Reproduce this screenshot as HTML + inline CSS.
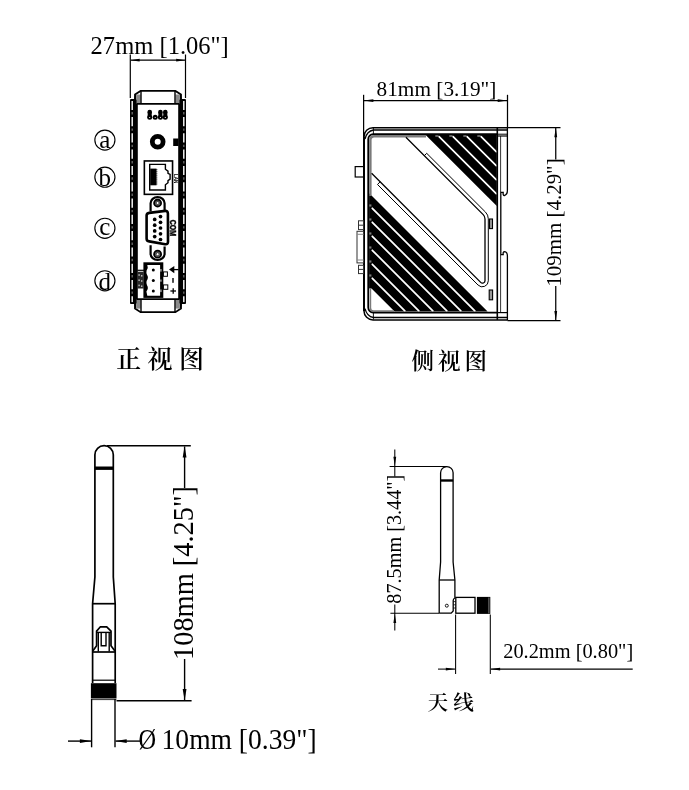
<!DOCTYPE html>
<html lang="zh"><head><meta charset="utf-8"><title>Dimensions</title>
<style>html,body{margin:0;padding:0;background:#fff}svg{display:block;will-change:transform}text{fill:#000}</style></head><body>
<svg width="689" height="790" viewBox="0 0 689 790">
<rect width="689" height="790" fill="#fff"/>
<!-- front view dimension -->
<g id="front-dim" stroke="#000" stroke-width="1.2" fill="#000">
<line x1="130.3" y1="54.5" x2="130.3" y2="98"/><line x1="185.5" y1="54.5" x2="185.5" y2="98"/>
<line x1="131" y1="60.2" x2="185" y2="60.2"/>
<g stroke="none"><polygon points="130.60,60.20 139.60,58.80 139.60,61.60"/><polygon points="185.20,60.20 176.20,61.60 176.20,58.80"/></g>
</g>
<text x="90.6" y="53.7" font-size="24.2" font-family="'Liberation Serif', serif" textLength="138.2" lengthAdjust="spacingAndGlyphs">27mm [1.06"]</text>
<!-- front view device -->
<g id="front">
<rect x="130" y="99.7" width="7.8" height="203.7" fill="#000"/>
<rect x="178.2" y="99.7" width="7.8" height="203.7" fill="#000"/>
<line x1="132.2" y1="100.7" x2="132.2" y2="302.5" stroke="#fff" stroke-width="1.4" stroke-dasharray="9.2 7.1"/>
<line x1="132.2" y1="112.1" x2="132.2" y2="302.5" stroke="#777" stroke-width="1.2" stroke-dasharray="2.4 13.9"/>
<line x1="183.8" y1="100.7" x2="183.8" y2="302.5" stroke="#fff" stroke-width="1.4" stroke-dasharray="9.2 7.1"/>
<line x1="183.8" y1="112.1" x2="183.8" y2="302.5" stroke="#777" stroke-width="1.2" stroke-dasharray="2.4 13.9"/>
<g fill="none" stroke="#000">
<rect x="136.4" y="94.5" width="4.2" height="9" fill="#8a8a8a" stroke="none"/><rect x="175.4" y="94.5" width="4.2" height="9" fill="#8a8a8a" stroke="none"/>
<path d="M130.4,100 L134.9,100 L135,94.6 L140.6,90.9 L175.4,90.9 L181,94.6 L181.1,100 L185.6,100" stroke-width="1.8"/>
<line x1="141" y1="91" x2="141" y2="104" stroke-width="1.4"/><line x1="175" y1="91" x2="175" y2="104" stroke-width="1.4"/>
<line x1="135.6" y1="95" x2="135.6" y2="104" stroke-width="1.2"/><line x1="180.4" y1="95" x2="180.4" y2="104" stroke-width="1.2"/>
<line x1="137" y1="103.9" x2="179" y2="103.9" stroke-width="1.7"/>
</g>
<g transform="translate(0,403.1) scale(1,-1)" fill="none" stroke="#000">
<rect x="136.4" y="94.5" width="4.2" height="9" fill="#8a8a8a" stroke="none"/><rect x="175.4" y="94.5" width="4.2" height="9" fill="#8a8a8a" stroke="none"/>
<path d="M130.4,100 L134.9,100 L135,94.6 L140.6,90.9 L175.4,90.9 L181,94.6 L181.1,100 L185.6,100" stroke-width="1.8"/>
<line x1="141" y1="91" x2="141" y2="104" stroke-width="1.4"/><line x1="175" y1="91" x2="175" y2="104" stroke-width="1.4"/>
<line x1="135.6" y1="95" x2="135.6" y2="104" stroke-width="1.2"/><line x1="180.4" y1="95" x2="180.4" y2="104" stroke-width="1.2"/>
<line x1="137" y1="103.9" x2="179" y2="103.9" stroke-width="1.7"/>
</g>
<g fill="#000">
<circle cx="149.7" cy="117.2" r="2.5"/>
<circle cx="155.2" cy="117.2" r="2.5"/>
<circle cx="160.4" cy="117.2" r="2.5"/>
<circle cx="165.3" cy="117.2" r="2.5"/>
<circle cx="149.7" cy="112" r="2.3"/><rect x="147.7" y="112" width="4" height="5"/>
<circle cx="160.4" cy="112" r="2.3"/><rect x="158.4" y="112" width="4" height="5"/>
<circle cx="165.3" cy="112" r="2.3"/><rect x="163.3" y="112" width="4" height="5"/>
</g>
<g fill="#fff">
<circle cx="149.7" cy="117.5" r="0.6"/>
<circle cx="155.2" cy="117.5" r="0.6"/>
<circle cx="160.4" cy="117.5" r="0.6"/>
<circle cx="165.3" cy="117.5" r="0.6"/>
</g>
<circle cx="157.7" cy="141.7" r="5.4" fill="none" stroke="#000" stroke-width="4.8"/>
<rect x="173.2" y="138.5" width="5.4" height="7.5" fill="#000"/>
<rect x="144.35" y="160.95" width="28.2" height="33.4" fill="none" stroke="#000" stroke-width="1.6"/>
<path d="M149.7,164.4 L165.4,164.4 L165.4,169.2 L168,171.2 L168,173.4 L170.1,174.5 L170.1,179.2 L168,180.6 L168,182.7 L165.4,184.8 L165.4,190 L149.7,190 Z" fill="none" stroke="#000" stroke-width="1.4"/>
<rect x="150.2" y="168.6" width="6.3" height="16.7" fill="#000"/>
<g fill="#000">
<rect x="156.4" y="169.2" width="0.9" height="1"/>
<rect x="156.4" y="171.2" width="0.9" height="1"/>
<rect x="156.4" y="173.3" width="0.9" height="1"/>
<rect x="156.4" y="175.3" width="0.9" height="1"/>
<rect x="156.4" y="177.4" width="0.9" height="1"/>
<rect x="156.4" y="179.4" width="0.9" height="1"/>
<rect x="156.4" y="181.5" width="0.9" height="1"/>
<rect x="156.4" y="183.5" width="0.9" height="1"/>
</g>
<text transform="translate(173.6,174) rotate(90)" font-size="4.6" font-weight="bold" font-family="'Liberation Sans', sans-serif">LAN</text>
<g fill="none" stroke="#000">
<path d="M150.6,211.5 L150.6,203.2 A7,6.2 0 0 1 164.6,203.2 L164.6,210.5" stroke-width="2.2"/>
<path d="M150.6,245.2 L150.6,253.8 A7,6.2 0 0 0 164.6,253.8 L164.6,246.6" stroke-width="2.2"/>
<circle cx="157.6" cy="203" r="3.5" stroke="#000" stroke-width="1.8" fill="#666"/><circle cx="157.6" cy="203" r="1.5" stroke="#000" stroke-width="0.6" fill="#fff"/>
<circle cx="157.6" cy="254.2" r="3.5" stroke="#000" stroke-width="1.8" fill="#666"/><circle cx="157.6" cy="254.2" r="1.5" stroke="#000" stroke-width="0.6" fill="#fff"/>
<path d="M149.2,212.9 L165.2,210.9 Q167.8,210.8 167.9,213.5 L168,241.8 Q168,244.6 165.2,244.2 L149.2,241.4 Q146.6,241 146.6,238.4 L146.6,215.6 Q146.6,213.2 149.2,212.9 Z" stroke-width="2.6" fill="#fff"/>
</g>
<g fill="#000">
<circle cx="160.5" cy="216.6" r="1.85"/>
<circle cx="160.5" cy="222.3" r="1.85"/>
<circle cx="160.5" cy="228.0" r="1.85"/>
<circle cx="160.5" cy="233.8" r="1.85"/>
<circle cx="160.5" cy="239.5" r="1.85"/>
<circle cx="154.7" cy="219.4" r="1.85"/>
<circle cx="154.7" cy="225.2" r="1.85"/>
<circle cx="154.7" cy="230.9" r="1.85"/>
<circle cx="154.7" cy="236.6" r="1.85"/>
</g>
<text transform="translate(170,219.8) rotate(90)" font-size="8.4" font-weight="bold" stroke="#000" stroke-width="0.45" font-family="'Liberation Sans', sans-serif" textLength="16.4" lengthAdjust="spacingAndGlyphs">COM</text>
<line x1="169.2" y1="221" x2="169.2" y2="236.4" stroke="#555" stroke-width="0.8" stroke-dasharray="0.7 0.8"/>
<rect x="143.4" y="262.3" width="19.9" height="35.6" fill="#000"/>
<path d="M147.3,264.9 L160.1,264.9 L160.1,295.7 L147.3,295.7 L146.4,291.5 Q149,288 147,285.3 Q146,283.5 146.6,281 Q149,277.5 147,274.8 Q146,273 146.6,270.5 Q148.6,268 147.3,264.9 Z" fill="#fff"/>
<g fill="#000"><circle cx="153.3" cy="270.1" r="1.5"/><circle cx="153.3" cy="280.6" r="1.5"/><circle cx="153.3" cy="291" r="1.5"/></g>
<g fill="#fff"><rect x="160.5" y="269" width="0.9" height="2.6"/><rect x="160.5" y="279.5" width="0.9" height="2.2"/><rect x="160.5" y="289.5" width="0.9" height="2.6"/></g>
<rect x="163.4" y="271.9" width="4" height="4.4" fill="#fff" stroke="#000" stroke-width="1"/>
<rect x="163.4" y="284.9" width="4.4" height="4.4" fill="#fff" stroke="#000" stroke-width="1"/>
<rect x="137.2" y="271.7" width="6.6" height="16.8" fill="#2a2a2a"/>
<g fill="#bbb">
<rect x="138.4" y="274.2" width="1.4" height="1.6"/><rect x="141" y="275.0" width="1.4" height="1.6"/>
<rect x="138.4" y="279.4" width="1.4" height="1.6"/><rect x="141" y="280.2" width="1.4" height="1.6"/>
<rect x="138.4" y="284.6" width="1.4" height="1.6"/><rect x="141" y="285.4" width="1.4" height="1.6"/>
</g>
<line x1="137.4" y1="270.3" x2="144" y2="270.3" stroke="#000" stroke-width="1.2"/>
<g stroke="#000" fill="#000">
<line x1="172" y1="269.6" x2="178.6" y2="269.6" stroke-width="1.3"/>
<polygon points="169,269.6 174.3,265.9 174.3,273.3" stroke="none"/>
<rect x="172.3" y="278" width="1.4" height="4.8" stroke="none"/>
<line x1="170.4" y1="291" x2="176" y2="291" stroke-width="1.3"/><line x1="173.2" y1="288.2" x2="173.2" y2="293.8" stroke-width="1.3"/>
</g>
</g>
<g id="labels">
<circle cx="104.9" cy="140.1" r="10.05" fill="none" stroke="#000" stroke-width="1.15"/>
<text x="104.7" y="148.3" font-size="25" text-anchor="middle" font-family="'Liberation Serif', serif">a</text>
<circle cx="104.9" cy="177.2" r="10.05" fill="none" stroke="#000" stroke-width="1.15"/>
<text x="104.7" y="185.8" font-size="25" text-anchor="middle" font-family="'Liberation Serif', serif">b</text>
<circle cx="104.9" cy="228.3" r="10.05" fill="none" stroke="#000" stroke-width="1.15"/>
<text x="104.7" y="234.7" font-size="25" text-anchor="middle" font-family="'Liberation Serif', serif">c</text>
<circle cx="104.9" cy="280.8" r="10.05" fill="none" stroke="#000" stroke-width="1.15"/>
<text x="104.7" y="289.6" font-size="25" text-anchor="middle" font-family="'Liberation Serif', serif">d</text>
</g>
<text x="116.3" y="367.5" font-size="25" letter-spacing="6.3" font-weight="600" font-family="'Liberation Serif', 'Noto Serif CJK SC', serif">正视图</text>
<text x="411.5" y="369" font-size="22.5" letter-spacing="4" font-weight="600" font-family="'Liberation Serif', 'Noto Serif CJK SC', serif">侧视图</text>
<text x="427.6" y="709.8" font-size="20.6" letter-spacing="5" font-weight="600" font-family="'Liberation Serif', 'Noto Serif CJK SC', serif">天线</text>
<!-- side view -->
<g id="side">
<polygon points="369.1,193.3 371.5,195.5 487.6,311.6 394.6,311.6 371.5,288.5 369.1,288.5" fill="#000"/>
<polygon points="425.7,135 496.8,135 496.8,206.1" fill="#000"/>
<g stroke="#fff" stroke-width="1.75" stroke-linecap="round">
<line x1="372.3" y1="208.3" x2="474.8" y2="310.8"/>
<line x1="372.3" y1="222.3" x2="460.8" y2="310.8"/>
<line x1="372.3" y1="236.3" x2="446.8" y2="310.8"/>
<line x1="372.3" y1="250.3" x2="432.8" y2="310.8"/>
<line x1="372.3" y1="264.3" x2="418.8" y2="310.8"/>
<line x1="372.3" y1="278.3" x2="404.8" y2="310.8"/>
<line x1="439.1" y1="136.6" x2="496.2" y2="193.7"/>
<line x1="453.1" y1="136.6" x2="496.2" y2="179.7"/>
<line x1="467.1" y1="136.6" x2="496.2" y2="165.7"/>
<line x1="481.1" y1="136.6" x2="496.2" y2="151.7"/>
</g>
<g fill="none" stroke="#7a7a7a" stroke-width="2.4">
<path d="M370.4,196 L370.4,140 Q370.4,136.2 374.2,136.2 L426,136.2"/>
<path d="M370.4,289 L370.4,308 Q370.4,311 373.5,311 L394,311" stroke-width="1.6"/>
</g>
<g fill="#7a7a7a">
<rect x="369.2" y="204.4" width="2.2" height="2.2"/>
<rect x="369.2" y="218.4" width="2.2" height="2.2"/>
<rect x="369.2" y="232.4" width="2.2" height="2.2"/>
<rect x="369.2" y="246.4" width="2.2" height="2.2"/>
<rect x="369.2" y="260.4" width="2.2" height="2.2"/>
<rect x="369.2" y="274.4" width="2.2" height="2.2"/>
<rect x="435.3" y="135.2" width="3.2" height="1.6"/>
<rect x="449.3" y="135.2" width="3.2" height="1.6"/>
<rect x="463.3" y="135.2" width="3.2" height="1.6"/>
<rect x="477.3" y="135.2" width="3.2" height="1.6"/>
</g>
<g fill="none" stroke="#000">
<path d="M507.4,127.7 L373,127.7 A9,9 0 0 0 364,136.7 L364,310.9 A9,9 0 0 0 373,319.9 L507.4,319.9" stroke-width="1.5"/>
<path d="M507,130 L373.4,130 Q367,131 365,139" stroke-width="1.3"/>
<line x1="364" y1="137" x2="364" y2="311" stroke-width="2"/>
<path d="M507,317.5 L373.4,317.5 Q367,316.5 365,308.6" stroke-width="1.3"/>
<line x1="373.4" y1="128" x2="373.4" y2="134" stroke-width="0.9"/><line x1="373.4" y1="313" x2="373.4" y2="319.6" stroke-width="0.9"/>
<path d="M497.3,134.2 L373.2,134.2 A5,5 0 0 0 368.2,139.2 L368.2,307.6 A5,5 0 0 0 373.2,312.6 L497.3,312.6" stroke-width="1.7"/>
<line x1="497.3" y1="127.7" x2="497.3" y2="319.9" stroke-width="1.6"/>
<line x1="497.3" y1="134.2" x2="507" y2="134.2" stroke-width="1"/><line x1="497.3" y1="136" x2="507" y2="136" stroke-width="1.2"/>
<line x1="497.3" y1="312.6" x2="507" y2="312.6" stroke-width="1.2"/>
<path d="M507.4,127.2 L507.4,190.6 Q507.4,194.6 504.4,195.6 Q502.8,195.4 503.2,192.4 L500.8,192.4 L500.8,254.6 L503.2,254.6 Q502.8,251.6 504.6,251.6 Q507.4,252 507.4,256 L507.4,320.4" stroke-width="1.3"/>
<line x1="500.6" y1="136" x2="500.6" y2="192" stroke-width="0.8"/><line x1="500.6" y1="255" x2="500.6" y2="312" stroke-width="0.8"/>
<path d="M371.6,173.3 L480.7,282.4 A2.5,2.5 0 0 0 485,280.7 L485,218.9 A6,6 0 0 0 483.2,214.6 L405.9,137.3" stroke-width="1.3"/>
<path d="M380.1,181.8 L377.5,184.5 L478.05,285.05 A6,6 0 0 0 488.3,280.8 L488.3,218.8 A9.5,9.5 0 0 0 485.5,212.1 L426.7,153.3 L424.3,155.7" stroke-width="1"/>
<rect x="489.5" y="219" width="3" height="9.6" fill="#999" stroke-width="1.1"/>
<rect x="489.2" y="290" width="3.4" height="9.8" fill="#999" stroke-width="1.1"/>
<rect x="355.2" y="166.6" width="8.4" height="10.4" stroke-width="1.2"/>
<g stroke="#333" stroke-width="1"><rect x="358.5" y="220.8" width="5" height="8.8"/><line x1="358.5" y1="225.2" x2="363.5" y2="225.2"/>
<rect x="357" y="231.3" width="6.5" height="31.6"/><line x1="357" y1="234.3" x2="363.5" y2="234.3" stroke="#888"/><line x1="357" y1="260" x2="363.5" y2="260" stroke="#888"/>
<rect x="358.5" y="265.3" width="5" height="8.3"/><line x1="358.5" y1="269.4" x2="363.5" y2="269.4"/></g>
</g>
<g stroke="#000" stroke-width="1.25" fill="#000">
<line x1="363.6" y1="94.8" x2="363.6" y2="138"/><line x1="507.5" y1="94.8" x2="507.5" y2="127.5"/>
<line x1="364" y1="100.6" x2="507" y2="100.6"/>
<g stroke="none"><polygon points="363.90,100.60 373.40,99.20 373.40,102.00"/><polygon points="507.20,100.60 497.70,102.00 497.70,99.20"/></g>
<line x1="507.5" y1="127.5" x2="560.5" y2="127.5"/><line x1="507.5" y1="320.7" x2="560.5" y2="320.7"/>
<line x1="555.75" y1="128" x2="555.75" y2="159.6"/><line x1="555.75" y1="286" x2="555.75" y2="320"/>
<g stroke="none"><polygon points="555.75,127.80 557.15,137.30 554.35,137.30"/><polygon points="555.75,320.40 554.35,310.90 557.15,310.90"/></g>
</g>
<text x="376.6" y="95.6" font-size="22" font-family="'Liberation Serif', serif" textLength="119.8" lengthAdjust="spacingAndGlyphs">81mm [3.19"]</text>
<text transform="translate(561.3,222.5) rotate(-90)" text-anchor="middle" font-size="20.4" font-family="'Liberation Serif', serif" textLength="128.2" lengthAdjust="spacingAndGlyphs">109mm [4.29"]</text>
</g>
<!-- antenna front -->
<g id="ant1" fill="none" stroke="#000" stroke-width="1.7">
<path d="M92.6,683 L92.6,603.7 L94.9,577 L94.9,454.8 A9.2,9.2 0 0 1 113.3,454.8 L113.3,577 L115.2,603.7 L115.2,683"/>
<line x1="94.9" y1="468.2" x2="113.3" y2="468.2" stroke-width="3.4"/>
<line x1="92.6" y1="603.7" x2="115.2" y2="603.7"/><line x1="92.6" y1="652" x2="115.2" y2="652"/><line x1="92.6" y1="680.2" x2="115.2" y2="680.2" stroke-width="1.2"/>
<path d="M92.8,651 L96.6,645.7 L96.6,631.1 L100.4,626.8 L106.7,626.8 L111,631.1 L111,645.7 L114.9,651" stroke-width="1.7"/>
<line x1="96.6" y1="632.4" x2="111" y2="632.4" stroke-width="1.4"/>
<path d="M98.3,651.5 L98.3,632.6 M109.2,632.6 L109.2,651.5" stroke-width="1.4"/>
<path d="M101.2,633 L101.2,645.7 L106,645.7 L106,633" stroke-width="1.4"/>
<rect x="90.9" y="683.2" width="25.6" height="15.3" fill="#000" stroke="none"/>
<line x1="91" y1="699.6" x2="116.4" y2="699.6" stroke-width="0.8"/>
</g>
<g stroke="#000" stroke-width="1.4" fill="#000">
<line x1="107" y1="445.7" x2="190.8" y2="445.7"/><line x1="116.5" y1="700.8" x2="191.6" y2="700.8"/>
<line x1="184.6" y1="446.5" x2="184.6" y2="488"/><line x1="184.6" y1="659" x2="184.6" y2="700"/>
<g stroke="none"><polygon points="184.60,446.00 186.50,457.50 182.70,457.50"/><polygon points="184.60,700.50 182.70,689.00 186.50,689.00"/></g>
<line x1="91.6" y1="699" x2="91.6" y2="747.3"/><line x1="115" y1="699" x2="115" y2="747.3"/>
<line x1="68" y1="741.1" x2="91" y2="741.1"/><line x1="115.6" y1="741.1" x2="140.5" y2="741.1"/>
<g stroke="none"><polygon points="91.40,741.10 79.90,743.00 79.90,739.20"/><polygon points="115.20,741.10 126.70,739.20 126.70,743.00"/></g>
</g>
<text transform="translate(192.7,573) rotate(-90)" text-anchor="middle" font-size="29" font-family="'Liberation Serif', serif" textLength="174" lengthAdjust="spacingAndGlyphs">108mm [4.25"]</text>
<text y="748.7" font-size="29.6" font-family="'Liberation Serif', serif"><tspan x="138.4" textLength="17.6" lengthAdjust="spacingAndGlyphs">Ø</tspan><tspan x="161.6" textLength="155" lengthAdjust="spacingAndGlyphs">10mm [0.39"]</tspan></text>
<!-- antenna side -->
<g id="ant2" fill="none" stroke="#000" stroke-width="1.3">
<path d="M439.2,613.2 L439.2,580 L440.6,562 L440.6,472.8 A6.25,6.25 0 0 1 453.1,472.8 L453.1,562 L454.9,580 L454.9,598 Q453.2,598.6 453.2,600.4 L453.2,611 L451.2,613.2 L439.2,613.2"/>
<line x1="440.6" y1="480.5" x2="453.1" y2="480.5" stroke-width="2.4"/>
<line x1="439.2" y1="580" x2="454.9" y2="580"/>
<circle cx="446.8" cy="605.7" r="1.5" stroke-width="0.9"/>
<path d="M453.4,601.6 L455.6,601.6 M453.4,604.8 L455.6,604.8 M453.4,608 L455.6,608" stroke-width="0.8"/>
<rect x="455.8" y="597.4" width="19.2" height="15.8"/>
<rect x="476.9" y="596.9" width="13.4" height="17" fill="#000" stroke="none"/>
<line x1="488.9" y1="597.5" x2="488.9" y2="613.4" stroke="#fff" stroke-width="0.5"/>
</g>
<g stroke="#000" stroke-width="1.05" fill="#000">
<line x1="389.6" y1="466.5" x2="447" y2="466.5"/><line x1="390.4" y1="613.2" x2="439.2" y2="613.2"/>
<line x1="394.8" y1="449.6" x2="394.8" y2="476.6"/><line x1="394.8" y1="604.4" x2="394.8" y2="630.5"/>
<g stroke="none"><polygon points="394.80,466.30 393.40,456.80 396.20,456.80"/><polygon points="394.80,613.40 396.20,622.90 393.40,622.90"/></g>
<line x1="455.6" y1="614.5" x2="455.6" y2="674"/><line x1="490.3" y1="614.5" x2="490.3" y2="674"/>
<line x1="438" y1="669.1" x2="455" y2="669.1"/><line x1="491" y1="669.1" x2="632.7" y2="669.1"/>
<g stroke="none"><polygon points="455.30,669.10 445.80,670.50 445.80,667.70"/><polygon points="490.60,669.10 500.10,667.70 500.10,670.50"/></g>
</g>
<text transform="translate(400.8,539.2) rotate(-90)" text-anchor="middle" font-size="21" font-family="'Liberation Serif', serif" textLength="129" lengthAdjust="spacingAndGlyphs">87.5mm [3.44"]</text>
<text x="503.2" y="657.7" font-size="20.5" font-family="'Liberation Serif', serif" textLength="130" lengthAdjust="spacingAndGlyphs">20.2mm [0.80"]</text>
</svg></body></html>
